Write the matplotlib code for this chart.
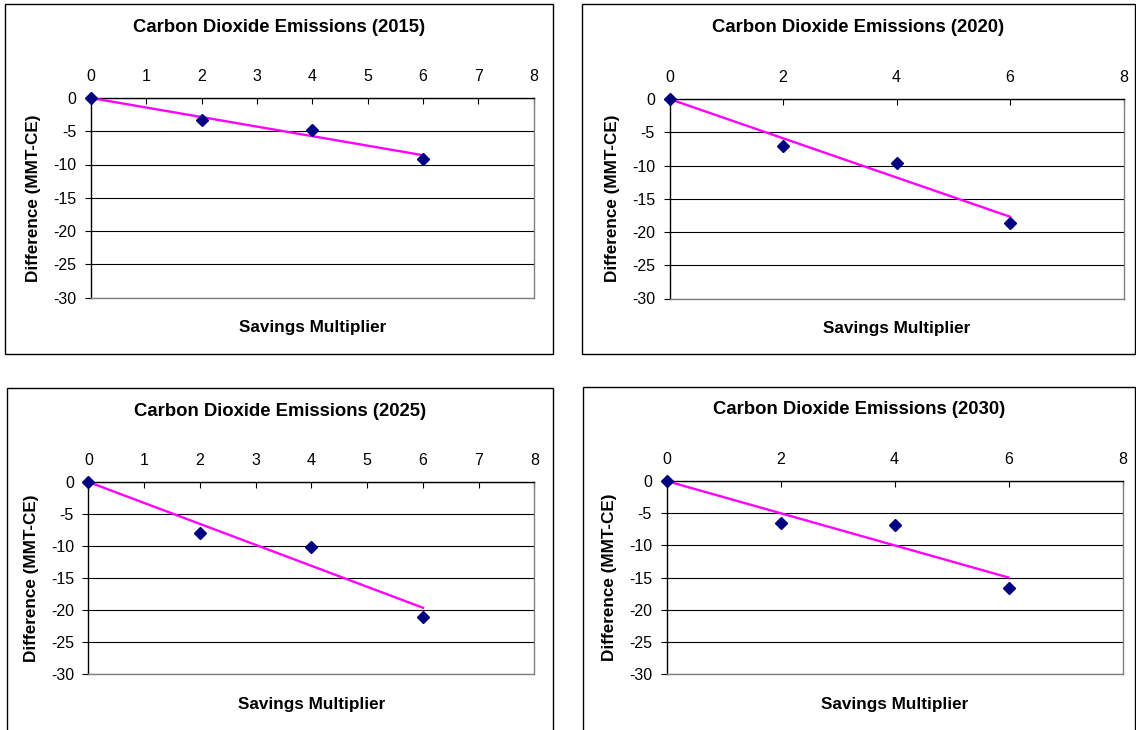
import numpy as np
import matplotlib.pyplot as plt
from matplotlib.patches import Rectangle

plt.rcParams['font.family'] = ['Liberation Sans', 'DejaVu Sans']
plt.rcParams['axes.unicode_minus'] = False

W, H = 1136, 730

# data
years = ['2015', '2020', '2025', '2030']
multiplier = [0, 2, 4, 6]
diff_2015 = [0, -3.35, -4.85, -9.1]
diff_2020 = [0, -7.0, -9.6, -18.7]
diff_2025 = [0, -8.05, -10.2, -21.2]
diff_2030 = [0, -6.5, -6.9, -16.6]

# linear trend lines, end points at x=0 and x=6
trend_x = [0, 6]
trend_2015 = [0, -8.6]
trend_2020 = [0, -17.7]
trend_2025 = [0, -19.7]
trend_2030 = [0, -15.0]

xticks_fine = [0, 1, 2, 3, 4, 5, 6, 7, 8]
xticks_coarse = [0, 2, 4, 6, 8]
yticks = [0, -5, -10, -15, -20, -25, -30]


def fx(x):
    return x / W


def fy(y):
    return 1 - y / H


def DrawPanel(fig, frame, box, title_y, xlabel_y, year, diffs, trend, xticks):
    # outer chart frame
    fl, ft, fr, fb = frame
    fig.patches.append(Rectangle((fx(fl), fy(fb)), fx(fr - fl), (fb - ft) / H,
                                 transform=fig.transFigure, fill=False,
                                 edgecolor='black', lw=1.0))

    left, top, right, bottom = box
    ax = fig.add_axes([fx(left), fy(bottom), fx(right - left), (bottom - top) / H])

    ax.plot(trend_x, trend, color='#FF00FF', lw=1.7, zorder=3)
    ax.plot(multiplier, diffs, ls='none', marker='D', ms=6.5, color='#000080',
            mec='#000080', zorder=4, clip_on=False)

    ax.set_xlim(0, 8)
    ax.set_ylim(-30, 0)
    ax.set_xticks(xticks)
    ax.set_yticks(yticks)
    ax.xaxis.tick_top()
    ax.tick_params(axis='x', direction='in', length=4, width=0.8, pad=10,
                   labelsize=11.5, colors='black')
    ax.tick_params(axis='y', direction='out', length=4, width=0.8, pad=6.5,
                   labelsize=11.5, colors='black')
    ax.yaxis.grid(True, color='black', lw=0.8)
    ax.set_axisbelow(True)

    ax.spines['top'].set_color('black')
    ax.spines['left'].set_color('black')
    ax.spines['right'].set_color('#808080')
    ax.spines['bottom'].set_color('#808080')
    for s in ax.spines.values():
        s.set_linewidth(1.0)

    fig.text(fx((fl + fr) / 2), fy(title_y), 'Carbon Dioxide Emissions (%s)' % year,
             ha='center', va='center', fontsize=13.3, fontweight='bold')
    fig.text(fx((left + right) / 2), fy(xlabel_y), 'Savings Multiplier',
             ha='center', va='center', fontsize=12.3, fontweight='bold')
    fig.text(fx(left - 57), fy((top + bottom) / 2), 'Difference (MMT-CE)',
             ha='center', va='center', rotation=90, fontsize=12.3, fontweight='bold')
    return ax


fig = plt.figure(figsize=(W / 100, H / 100), dpi=100)

DrawPanel(fig, (5, 4, 553, 354), (91, 98, 533.5, 297.5), 27, 328,
          years[0], diff_2015, trend_2015, xticks_fine)
DrawPanel(fig, (582, 4, 1135, 354), (669.5, 99, 1123.5, 298.5), 27.7, 329,
          years[1], diff_2020, trend_2020, xticks_coarse)
DrawPanel(fig, (7, 388, 553, 760), (88.5, 482, 534.5, 673.5), 411, 704,
          years[2], diff_2025, trend_2025, xticks_fine)
DrawPanel(fig, (583, 387, 1135, 760), (666.5, 481, 1122.5, 674), 410, 704,
          years[3], diff_2030, trend_2030, xticks_coarse)

fig.savefig('out.png', dpi=100, facecolor='white')
